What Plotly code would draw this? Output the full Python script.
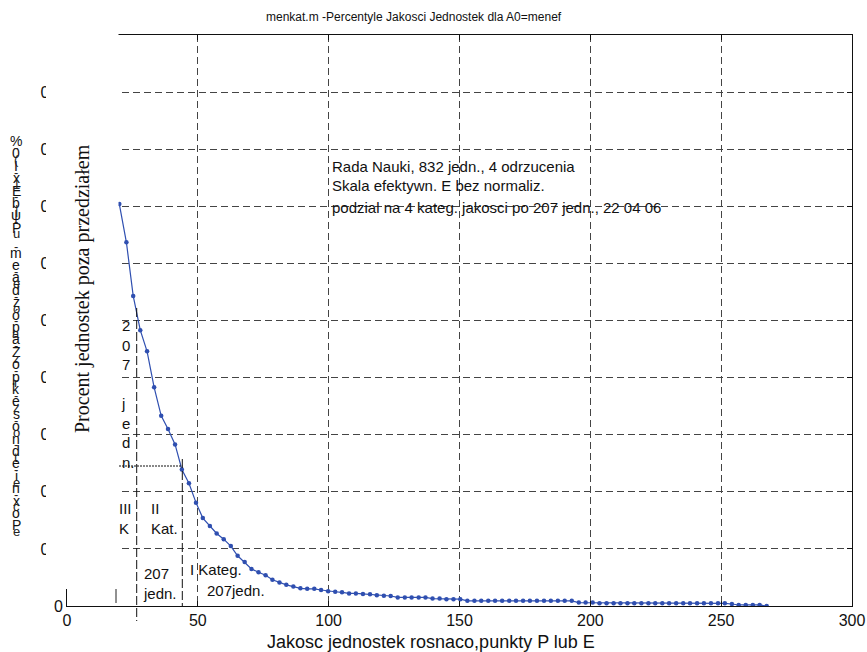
import plotly.graph_objects as go

# ---------------- data ----------------
x_vals = [20.0, 22.7, 25.3, 28.0, 30.6, 33.3, 36.0, 38.6, 41.3, 43.9,
          46.6, 49.3, 51.9, 54.6, 57.2, 59.9, 62.6, 65.2, 67.9, 70.5,
          73.2, 75.9, 78.5, 81.2, 83.8, 86.5, 89.2, 91.8, 94.5, 97.1,
          99.8, 102.5, 105.1, 107.8, 110.4, 113.1, 115.8, 118.4, 121.1, 123.7,
          126.4, 129.1, 131.7, 134.4, 137.0, 139.7, 142.4, 145.0, 147.7, 150.3,
          153.0, 155.7, 158.3, 161.0, 163.6, 166.3, 169.0, 171.6, 174.3, 176.9,
          179.6, 182.3, 184.9, 187.6, 190.2, 192.9, 195.6, 198.2, 200.9, 203.5,
          206.2, 208.9, 211.5, 214.2, 216.8, 219.5, 222.2, 224.8, 227.5, 230.1,
          232.8, 235.5, 238.1, 240.8, 243.4, 246.1, 248.8, 251.4, 254.1, 256.7,
          259.4, 262.1, 264.7, 267.4]
pct_vals = [0.704, 0.637, 0.543, 0.483, 0.446, 0.383, 0.333, 0.310, 0.283, 0.239,
            0.215, 0.181, 0.154, 0.140, 0.127, 0.117, 0.105, 0.088, 0.077, 0.065,
            0.059, 0.054, 0.046, 0.041, 0.037, 0.034, 0.031, 0.030, 0.030, 0.028,
            0.026, 0.025, 0.024, 0.022, 0.022, 0.021, 0.0205, 0.019, 0.018, 0.0175,
            0.015, 0.015, 0.015, 0.015, 0.015, 0.013, 0.013, 0.012, 0.012, 0.012,
            0.009, 0.009, 0.009, 0.009, 0.009, 0.009, 0.009, 0.009, 0.009, 0.009,
            0.009, 0.009, 0.009, 0.009, 0.009, 0.009, 0.006, 0.006, 0.006, 0.0047,
            0.0047, 0.0047, 0.0047, 0.0047, 0.0047, 0.0047, 0.0047, 0.0047, 0.0047, 0.0047,
            0.0047, 0.0047, 0.0047, 0.0047, 0.0047, 0.0047, 0.0047, 0.0047, 0.0035, 0.0018,
            0.0018, 0.0018, 0.0018, 0.0]

x_ticks = [0, 50, 100, 150, 200, 250, 300]
y_ticks = [0, 0.1, 0.2, 0.3, 0.4, 0.5, 0.6, 0.7, 0.8, 0.9, 1.0]
y_tick_text = ["0", "0.1", "0.2", "0.3", "0.4", "0.5", "0.6", "0.7", "0.8", "0.9", "1"]

title_text = "menkat.m -Percentyle Jakosci Jednostek dla A0=menef"
x_label = "Jakosc jednostek rosnaco,punkty P lub E"
y_label = "Procent jednostek poza przedziałem"
info_lines = ["Rada Nauki, 832 jedn., 4 odrzucenia",
              "Skala efektywn. E bez normaliz.",
              "podzial na 4 kateg. jakosci po 207 jedn., 22 04 06"]
garbled_chars = list("%0IxEbψP meadzópaZopkesondeinxoP")
garbled_over = list("-(-1-|-u- -e-o-a-z-r-z-o-t-e-c-e")

# ---------------- geometry helpers ----------------
W, H = 867, 652
L, R, T, B = 67, 852, 35, 606


def px_x(px):
    return (px - L) / (R - L)


def px_y(py):
    return (B - py) / (B - T)


SANS = "Liberation Sans, Arial, sans-serif"
SERIF = "Liberation Serif, Times New Roman, serif"
BLUE = "#2f4fb0"

fig = go.Figure()
fig.add_trace(go.Scatter(
    x=x_vals, y=pct_vals, mode="lines+markers",
    line=dict(color=BLUE, width=1.2),
    marker=dict(color=BLUE, size=4.5),
    showlegend=False, hoverinfo="skip"))

annotations = []
# title
annotations.append(dict(xref="paper", yref="paper", x=px_x(414), y=px_y(17),
                        text=title_text, showarrow=False, xanchor="center", yanchor="middle",
                        font=dict(family=SANS, size=12, color="#111")))
# x label
annotations.append(dict(xref="paper", yref="paper", x=px_x(431), y=px_y(642),
                        text=x_label, showarrow=False, xanchor="center", yanchor="middle",
                        font=dict(family=SANS, size=18, color="#111")))
# y label (serif)
annotations.append(dict(xref="paper", yref="paper", x=px_x(82), y=px_y(289),
                        text=y_label, showarrow=False, textangle=-90,
                        xanchor="center", yanchor="middle",
                        font=dict(family=SERIF, size=20, color="#111")))
# garbled stacked label
top_py, step = 141, 12.4
for i, ch in enumerate(garbled_chars):
    if ch.strip() == "":
        continue
    annotations.append(dict(xref="paper", yref="paper", x=px_x(16), y=px_y(top_py + i * step),
                            text=ch, showarrow=False, xanchor="center", yanchor="middle",
                            font=dict(family=SANS, size=14, color="#111")))
for i, ch in enumerate(garbled_over):
    if ch.strip() == "":
        continue
    annotations.append(dict(xref="paper", yref="paper", x=px_x(16),
                            y=px_y(top_py + i * step + step * 0.5),
                            text=ch, showarrow=False, xanchor="center", yanchor="middle",
                            font=dict(family=SANS, size=13, color="#222")))
# info text
for txt, py in zip(info_lines, [166, 186, 208]):
    annotations.append(dict(xref="paper", yref="paper", x=px_x(330), y=px_y(py),
                            text=txt, showarrow=False, xanchor="left", yanchor="middle",
                            font=dict(family=SANS, size=15, color="#111")))


def note(text, px, py):
    annotations.append(dict(xref="paper", yref="paper", x=px_x(px), y=px_y(py),
                            text=text, showarrow=False, xanchor="left", yanchor="middle",
                            align="left", font=dict(family=SANS, size=15, color="#111")))


note("2<br>0<br>7<br>\u00a0<br>j<br>e<br>d<br>n.", 119, 394)
note("III<br>K", 117, 518)
note("II<br>Kat.", 149, 518)
note("207<br>jedn.", 141, 583)
note("I Kateg.", 188, 569)
note("207jedn.", 205, 590)

shapes = []
# white patch hiding the left axis part / tick labels (as in the original)
shapes.append(dict(type="rect", xref="paper", yref="paper",
                   x0=px_x(46), x1=px_x(118.5), y0=px_y(589), y1=px_y(18),
                   fillcolor="white", line=dict(width=0), layer="above"))
# category separator lines
shapes.append(dict(type="line", xref="paper", yref="paper",
                   x0=px_x(136.7), x1=px_x(136.7), y0=px_y(308), y1=px_y(621),
                   line=dict(color="#111", width=1, dash="9px,3px"), layer="above"))
shapes.append(dict(type="line", xref="paper", yref="paper",
                   x0=px_x(182.3), x1=px_x(182.3), y0=px_y(459), y1=px_y(606),
                   line=dict(color="#111", width=1, dash="9px,3px"), layer="above"))
shapes.append(dict(type="line", xref="paper", yref="paper",
                   x0=px_x(119), x1=px_x(182.3), y0=px_y(466), y1=px_y(466),
                   line=dict(color="#111", width=1, dash="2px,1px"), layer="above"))
shapes.append(dict(type="line", xref="paper", yref="paper",
                   x0=px_x(116), x1=px_x(116), y0=px_y(589), y1=px_y(603),
                   line=dict(color="#222", width=1), layer="above"))

fig.update_layout(
    template="none",
    width=W, height=H,
    margin=dict(l=L, r=W - R, t=T, b=H - B, pad=0, autoexpand=False),
    paper_bgcolor="white", plot_bgcolor="white",
    showlegend=False,
    annotations=annotations,
    shapes=shapes,
    xaxis=dict(range=[0, 300], tickvals=x_ticks, ticktext=[str(v) for v in x_ticks],
               automargin=False,
               showline=True, linecolor="#111", linewidth=1, mirror="ticks",
               ticks="inside", ticklen=5, tickcolor="#111",
               showgrid=True, gridcolor="#444", gridwidth=1, griddash="7px,4px",
               zeroline=False, tickfont=dict(family=SANS, size=16, color="#111")),
    yaxis=dict(range=[0, 1], tickvals=y_ticks, ticktext=y_tick_text,
               automargin=False,
               showline=True, linecolor="#111", linewidth=1, mirror="ticks",
               ticks="inside", ticklen=5, tickcolor="#111",
               showgrid=True, gridcolor="#444", gridwidth=1, griddash="7px,4px",
               zeroline=False, tickfont=dict(family=SANS, size=16, color="#111")),
)

fig.write_html(
    "out.html",
    config={"displayModeBar": False},
    post_script="document.body.style.margin='0px';document.body.style.padding='0px';"
                "document.documentElement.style.overflow='hidden';",
)
